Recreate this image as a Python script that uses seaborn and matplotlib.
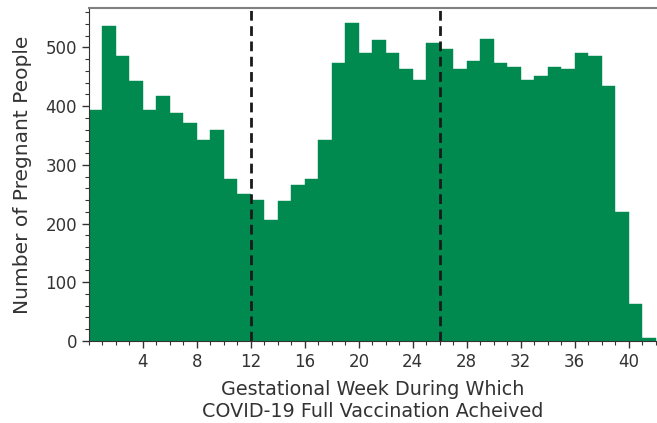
#!/usr/bin/env python3

import numpy as np
import pandas as pd
import matplotlib
matplotlib.use("Agg")
import matplotlib.pyplot as plt
from matplotlib.ticker import MultipleLocator
import seaborn as sns

# weekly counts (bin k covers week k..k+1)
week_start = list(range(42))
counts = [393, 536, 486, 442, 393, 417, 389, 371, 343, 360,
          275, 250, 240, 206, 238, 265, 275, 343, 473, 541,
          490, 512, 490, 463, 444, 508, 498, 463, 476, 514,
          473, 466, 444, 452, 466, 463, 490, 486, 435, 219,
          63, 5]
cutoffs = [12, 26]
x_ticks = [4, 8, 12, 16, 20, 24, 28, 32, 36, 40]
y_ticks = [0, 100, 200, 300, 400, 500]

df = pd.DataFrame({"week": np.array(week_start) + 0.5, "n": counts})

sns.set_style("ticks")
plt.rcParams['font.family'] = ['DejaVu Sans']

fig = plt.figure(figsize=(6.57, 4.23), dpi=100)
ax = fig.add_axes([89 / 657, 0.194, 568 / 657, 0.787])

sns.histplot(data=df, x="week", weights="n", binwidth=1, binrange=(0, 42),
             color="#008a4f", alpha=1, edgecolor="#008a4f", linewidth=0.3, ax=ax)

for c in cutoffs:
    ax.axvline(c, color="#1a1a1a", linestyle="--", linewidth=2, dashes=(3.5, 2))

ax.set_xlim(0, 42.1)
ax.set_ylim(0, 567)
ax.set_xticks(x_ticks)
ax.set_yticks(y_ticks)
ax.xaxis.set_minor_locator(MultipleLocator(1))
ax.yaxis.set_minor_locator(MultipleLocator(20))
ax.tick_params(which="major", length=5, width=1, labelsize=12, colors="#333333")
ax.tick_params(which="minor", length=3, width=0.8, colors="#333333")

ax.spines["right"].set_visible(False)
ax.spines["top"].set_color("#808080")
ax.spines["top"].set_linewidth(1.5)
ax.spines["left"].set_color("#333333")
ax.spines["bottom"].set_color("#333333")

ax.set_xlabel("Gestational Week During Which\nCOVID-19 Full Vaccination Acheived",
              fontsize=13.8, color="#333333", labelpad=7)
ax.set_ylabel("Number of Pregnant People", fontsize=14.5, color="#333333", labelpad=10)

fig.savefig("out.png", dpi=100)
